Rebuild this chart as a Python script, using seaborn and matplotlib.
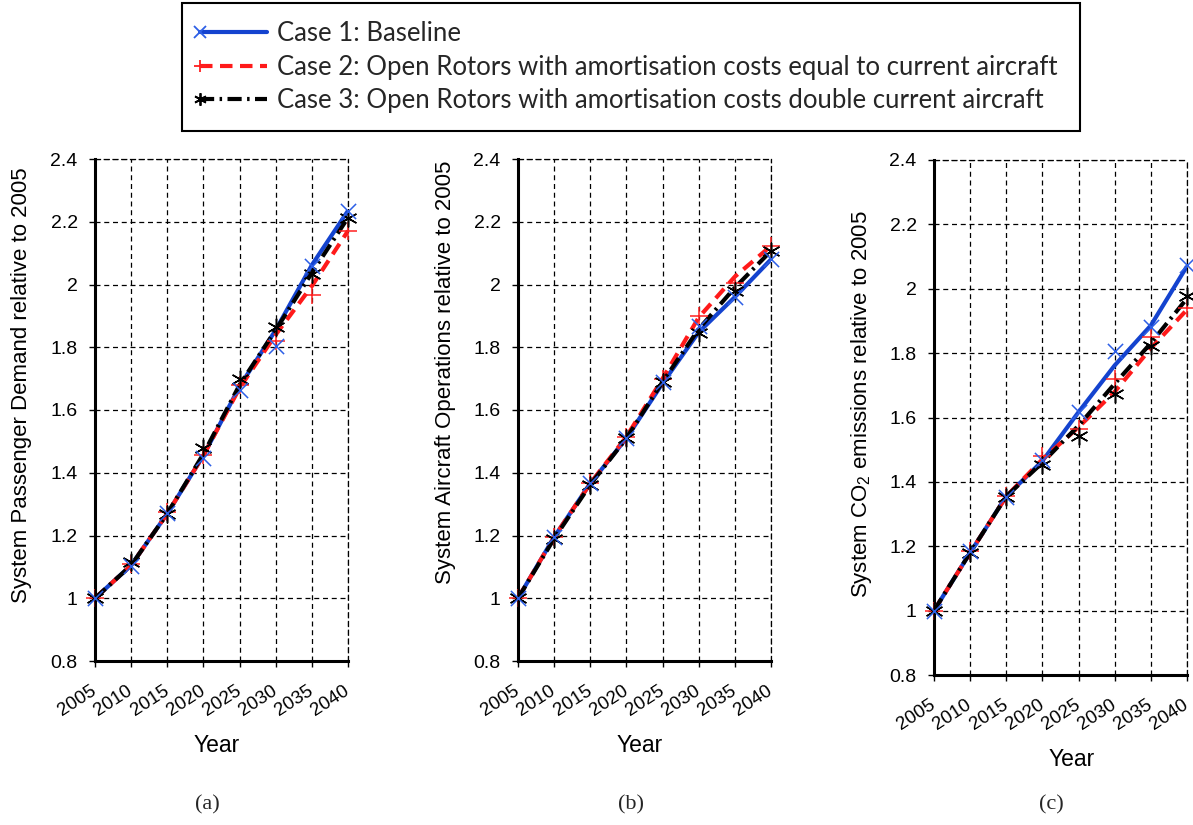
import matplotlib
matplotlib.use("Agg")
import matplotlib.pyplot as plt
from matplotlib.lines import Line2D
from matplotlib.legend_handler import HandlerLine2D
from matplotlib.ticker import FuncFormatter
import seaborn as sns
import pandas as pd

# ---------------- data ----------------
years = [2005, 2010, 2015, 2020, 2025, 2030, 2035, 2040]
year_labels = ["2005", "2010", "2015", "2020", "2025", "2030", "2035", "2040"]
case_names = [
    "Case 1: Baseline",
    "Case 2: Open Rotors with amortisation costs equal to current aircraft",
    "Case 3: Open Rotors with amortisation costs double current aircraft",
]
ylabels = [
    "System Passenger Demand relative to 2005",
    "System Aircraft Operations relative to 2005",
    "System CO$_2$ emissions relative to 2005",
]
panel_tags = ["(a)", "(b)", "(c)"]
y_ticks = [0.8, 1.0, 1.2, 1.4, 1.6, 1.8, 2.0, 2.2, 2.4]

# (a) passenger demand: marker values and curve values
demand_pts_c1 = [1.0, 1.103, 1.272, 1.446, 1.664, 1.805, 2.060, 2.235]
demand_pts_c2 = [1.0, 1.110, 1.275, 1.457, 1.680, 1.819, 1.968, 2.171]
demand_pts_c3 = [1.0, 1.117, 1.270, 1.478, 1.700, 1.865, 2.035, 2.213]
demand_line_c1 = [1.0, 1.105, 1.270, 1.455, 1.675, 1.855, 2.062, 2.235]
demand_line_c2 = [1.0, 1.105, 1.270, 1.455, 1.670, 1.840, 1.995, 2.171]
demand_line_c3 = [1.0, 1.105, 1.270, 1.460, 1.680, 1.855, 2.037, 2.213]

# (b) aircraft operations
ops_pts_c1 = [1.0, 1.195, 1.366, 1.510, 1.690, 1.869, 1.960, 2.080]
ops_pts_c2 = [1.0, 1.195, 1.366, 1.515, 1.700, 1.899, 2.005, 2.123]
ops_pts_c3 = [1.0, 1.190, 1.360, 1.510, 1.690, 1.845, 1.979, 2.107]
ops_line_c1 = [1.0, 1.195, 1.366, 1.510, 1.685, 1.848, 1.960, 2.080]
ops_line_c2 = [1.0, 1.195, 1.366, 1.515, 1.700, 1.895, 2.025, 2.123]
ops_line_c3 = [1.0, 1.190, 1.362, 1.510, 1.690, 1.858, 1.990, 2.107]

# (c) CO2 emissions
co2_pts_c1 = [1.0, 1.184, 1.354, 1.468, 1.617, 1.806, 1.880, 2.073]
co2_pts_c2 = [1.0, 1.186, 1.356, 1.479, 1.565, 1.720, 1.850, 1.939]
co2_pts_c3 = [1.0, 1.180, 1.352, 1.451, 1.544, 1.672, 1.821, 1.977]
co2_line_c1 = [1.0, 1.180, 1.355, 1.465, 1.617, 1.762, 1.886, 2.070]
co2_line_c2 = [1.0, 1.180, 1.355, 1.470, 1.570, 1.680, 1.815, 1.935]
co2_line_c3 = [1.0, 1.180, 1.355, 1.460, 1.575, 1.705, 1.831, 1.970]

panels = [
    ([demand_pts_c1, demand_pts_c2, demand_pts_c3],
     [demand_line_c1, demand_line_c2, demand_line_c3]),
    ([ops_pts_c1, ops_pts_c2, ops_pts_c3],
     [ops_line_c1, ops_line_c2, ops_line_c3]),
    ([co2_pts_c1, co2_pts_c2, co2_pts_c3],
     [co2_line_c1, co2_line_c2, co2_line_c3]),
]

# ---------------- style ----------------
sns.set_theme(style="ticks")
plt.rcParams["font.family"] = ["Liberation Sans", "DejaVu Sans"]
plt.rcParams["mathtext.default"] = "regular"

line_colors = ["#1443cf", "#ff1a1a", "#000000"]
marker_colors = ["#2d5fe6", "#ff2020", "#000000"]
markers = ["x", "+", (6, 2, 0)]
marker_sizes = [120, 150, 150]
linestyles = ["-", (0, (3.0, 1.8)), (0, (3.4, 1.3, 0.6, 1.3))]
draw_order = [1, 2, 0]

fig = plt.figure(figsize=(11.93, 8.25), dpi=100)
W, H = 1193.0, 825.0
axes_px = [(95, 348, 159, 661), (518, 771, 159, 661), (934, 1187, 160, 675)]
ylabel_px = [(22, 385), (445, 372), (862, 404)]
xlabel_px = [(217, 746), (640, 746), (1072, 760)]
tag_px = [(207, 805), (631, 805), (1051, 805)]

grid_dash = (0, (4, 3))

for i, (l, r, t, b) in enumerate(axes_px):
    ax = fig.add_axes([l / W, 1 - b / H, (r - l) / W, (b - t) / H])
    pts, curves = panels[i]
    for k in draw_order:
        df_line = pd.DataFrame({"Year": years, "value": curves[k]})
        sns.lineplot(data=df_line, x="Year", y="value", ax=ax,
                     color=line_colors[k], linewidth=3.0,
                     linestyle=linestyles[k], zorder=3 + k * 0.1,
                     solid_capstyle="butt", dash_capstyle="butt")
    for k in draw_order:
        df_pts = pd.DataFrame({"Year": years, "value": pts[k]})
        sns.scatterplot(data=df_pts, x="Year", y="value", ax=ax,
                        marker=markers[k], s=marker_sizes[k],
                        color=marker_colors[k], linewidth=1.1,
                        zorder=5, clip_on=False)

    ax.set_xlim(2005, 2040)
    ax.set_ylim(0.8, 2.4)
    ax.set_xticks(years)
    ax.set_xticklabels(year_labels, rotation=33, ha="right", va="center",
                       rotation_mode="anchor", fontsize=13.5)
    ax.set_yticks(y_ticks)
    ax.yaxis.set_major_formatter(FuncFormatter(lambda v, p: "%g" % round(v, 2)))
    ax.tick_params(axis="y", labelsize=14, length=4.5, width=1, pad=8,
                   direction="out", colors="black")
    ax.tick_params(axis="x", length=4.5, width=1, pad=16,
                   direction="out", colors="black")

    ax.grid(True, color="black", linestyle=grid_dash, linewidth=0.9)
    for sp in ["left", "bottom"]:
        ax.spines[sp].set_linewidth(2.2)
        ax.spines[sp].set_color("black")
    for sp in ["top", "right"]:
        ax.spines[sp].set_linewidth(0.9)
        ax.spines[sp].set_color("black")
        ax.spines[sp].set_linestyle(grid_dash)

    ax.set_ylabel(ylabels[i], fontsize=16, va="center", color="black")
    ax.yaxis.set_label_coords((ylabel_px[i][0] - l) / (r - l),
                              (b - ylabel_px[i][1]) / (b - t))
    ax.set_xlabel("Year", fontsize=16.5, va="center", color="black")
    ax.xaxis.set_label_coords((xlabel_px[i][0] - l) / (r - l),
                              (b - xlabel_px[i][1]) / (b - t))

    fig.text(tag_px[i][0] / W, 1 - tag_px[i][1] / H, panel_tags[i],
             ha="center", va="center", fontsize=16,
             family=["Liberation Serif", "DejaVu Serif"])


# ---------------- legend ----------------
class LeftMarkerHandler(HandlerLine2D):
    def create_artists(self, legend, orig_handle, xdescent, ydescent,
                       width, height, fontsize, trans):
        arts = super().create_artists(legend, orig_handle, xdescent, ydescent,
                                      width, height, fontsize, trans)
        for a in arts:
            if isinstance(a, Line2D):
                a.set_markevery([0])
        return arts


handles = []
for k in range(3):
    handles.append(Line2D([0, 1], [0, 0], color=line_colors[k], linewidth=3.0,
                          linestyle=linestyles[k], marker=markers[k],
                          markersize=9, markeredgewidth=1.3,
                          markeredgecolor=marker_colors[k],
                          dash_capstyle="butt"))
leg = fig.legend(handles, case_names, loc="upper left",
                 bbox_to_anchor=(182 / W, 1 - 126 / H, (1080 - 182) / W, 123 / H),
                 mode="expand", numpoints=2, frameon=True, fancybox=False,
                 handlelength=2.6, handletextpad=0.4, labelspacing=0.34,
                 borderpad=0.7, borderaxespad=0,
                 handler_map={Line2D: LeftMarkerHandler(marker_pad=0.0)},
                 prop={"family": ["Lato", "DejaVu Sans"], "size": 18.5})
leg.get_frame().set_edgecolor("black")
leg.get_frame().set_linewidth(1.5)
leg.get_frame().set_facecolor("white")
leg.get_frame().set_alpha(1)

fig.savefig("out.png", dpi=100)
